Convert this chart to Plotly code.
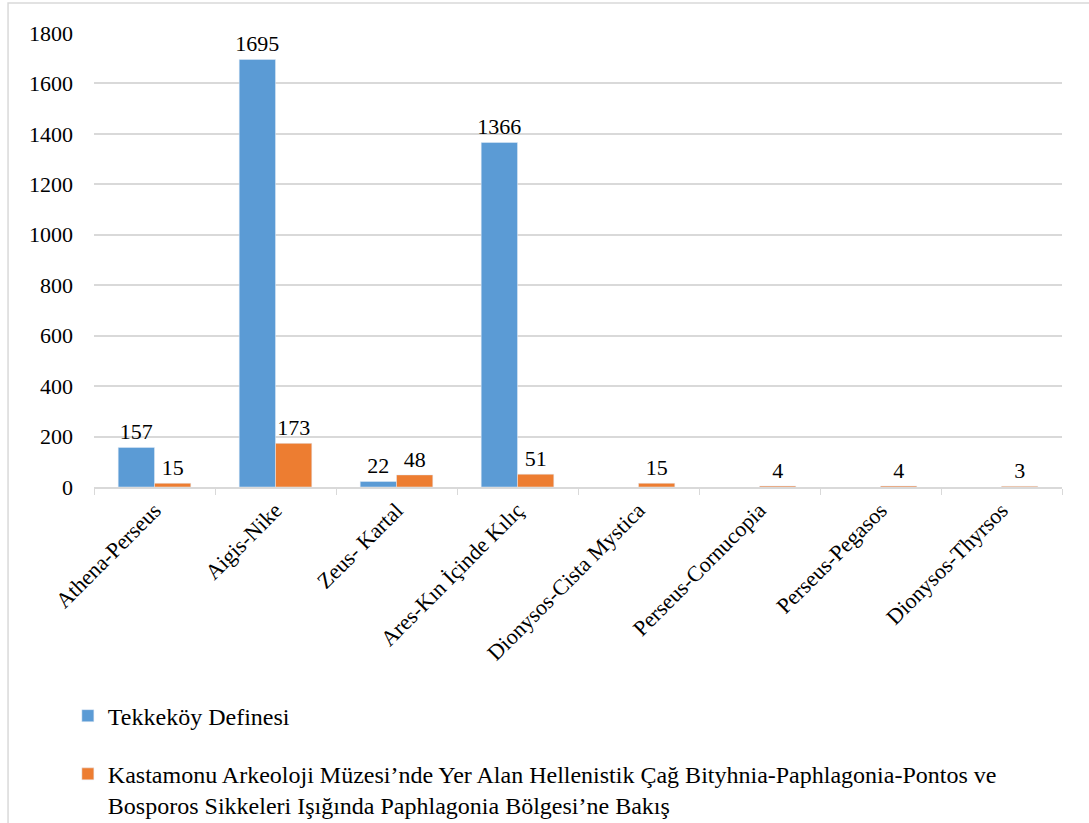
import plotly.graph_objects as go

categories = ["Athena-Perseus", "Aigis-Nike", "Zeus- Kartal", "Ares-Kın İçinde Kılıç",
              "Dionysos-Cista Mystica", "Perseus-Cornucopia", "Perseus-Pegasos", "Dionysos-Thyrsos"]
tekkekoy = [157, 1695, 22, 1366, None, None, None, None]
kastamonu = [15, 173, 48, 51, 15, 4, 4, 3]
series_names = ["Tekkeköy Definesi",
                "Kastamonu Arkeoloji Müzesi’nde Yer Alan Hellenistik Çağ Bityhnia-Paphlagonia-Pontos ve<br>Bosporos Sikkeleri Işığında Paphlagonia Bölgesi’ne Bakış"]
y_ticks = [0, 200, 400, 600, 800, 1000, 1200, 1400, 1600, 1800]

FONT = "Liberation Serif"
fig = go.Figure()
fig.add_trace(go.Bar(x=categories, y=tekkekoy, name=series_names[0], marker_color="#5B9BD5",
                     text=[("" if v is None else str(v)) for v in tekkekoy], textposition="outside",
                     constraintext="none",
                     textfont=dict(family=FONT, size=22, color="#000"), cliponaxis=False, legendgroup="a"))
fig.add_trace(go.Bar(x=categories, y=kastamonu, name=series_names[1], marker_color="#ED7D31",
                     text=[str(v) for v in kastamonu], textposition="outside",
                     constraintext="none",
                     textfont=dict(family=FONT, size=22, color="#000"), cliponaxis=False, legendgroup="b"))

fig.update_layout(
    width=1089, height=823,
    margin=dict(l=94, r=27, t=33, b=336, autoexpand=False),
    paper_bgcolor="white", plot_bgcolor="white",
    font=dict(family=FONT, size=22, color="#000"),
    barmode="group", bargap=0.4, bargroupgap=0,
    showlegend=True,
    legend=dict(orientation="v", x=-0.027, xanchor="left", y=-0.455, yanchor="top",
                font=dict(family=FONT, size=24, color="#000"), tracegroupgap=24,
                itemwidth=30, valign="top", bgcolor="rgba(0,0,0,0)"),
    shapes=[dict(type="rect", xref="paper", yref="paper", x0=-0.0888, x1=1.04, y0=-0.76, y1=1.066,
                 line=dict(color="#D9D9D9", width=1.5), fillcolor="rgba(0,0,0,0)", layer="below")],
)
fig.update_xaxes(tickangle=-45, tickfont=dict(family=FONT, size=22, color="#000"),
                 showline=True, linecolor="#D9D9D9", linewidth=1.5, automargin=False,
                 ticks="outside", tickson="boundaries", ticklen=6, tickcolor="#D9D9D9",
                 showgrid=False)
fig.update_yaxes(range=[0, 1800], tickvals=y_ticks, ticktext=[str(v) for v in y_ticks],
                 showgrid=True, gridcolor="#D9D9D9", gridwidth=1.5, zeroline=False, automargin=False,
                 showline=False, tickfont=dict(family=FONT, size=22, color="#000"),
                 ticks="", ticklabelstandoff=20)

fig.write_html("out.html", config={"displayModeBar": False},
               post_script="document.body.style.margin='0px';")
